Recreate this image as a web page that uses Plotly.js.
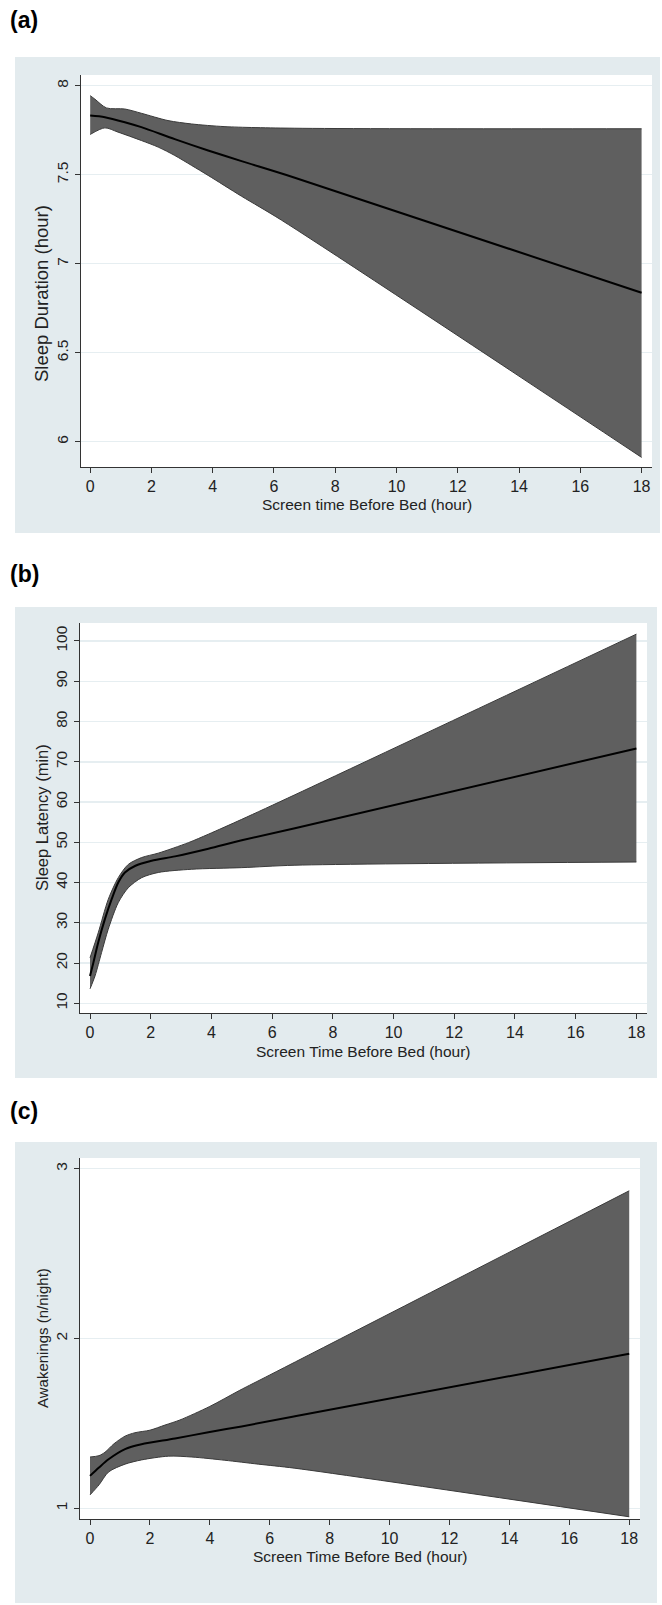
<!DOCTYPE html>
<html>
<head>
<meta charset="utf-8">
<script src="https://cdn.plot.ly/plotly-3.0.1.min.js"></script>
<style>
  html, body { margin: 0; padding: 0; background: #ffffff; }
  #chart { width: 662px; height: 1605px; }
</style>
</head>
<body>
<div id="chart"></div>
<script>
// ---------- data ----------
// Panel (a): Sleep Duration (hour)
var aCenterX = [0, 0.48, 1.13, 1.67, 2.76, 3.85, 4.94, 6.68, 18];
var aCenter  = [7.832, 7.823, 7.795, 7.767, 7.70, 7.636, 7.576, 7.483, 6.837];
var aUpperX  = [0, 0.15, 0.53, 1.13, 1.67, 2.54, 3.31, 4.4, 6.68, 18];
var aUpper   = [7.944, 7.925, 7.875, 7.869, 7.845, 7.804, 7.785, 7.77, 7.761, 7.758];
var aLowerX  = [0, 0.48, 0.91, 1.67, 2.22, 2.76, 3.31, 3.85, 4.94, 6.25, 18];
var aLower   = [7.726, 7.763, 7.739, 7.692, 7.655, 7.608, 7.552, 7.496, 7.379, 7.244, 5.912];

// Panel (b): Sleep Latency (min)
var bCenterX = [0, 0.11, 0.27, 0.49, 0.71, 0.93, 1.15, 1.48, 2.03, 2.8, 3.9, 5.0, 6.75, 18];
var bCenter  = [16.8, 20.1, 25.1, 30.9, 35.8, 40.0, 42.5, 44.1, 45.4, 46.5, 48.4, 50.5, 53.5, 73.3];
var bUpperX  = [0, 0.27, 0.6, 0.93, 1.26, 1.7, 2.25, 3.24, 3.9, 5.0, 6.75, 18];
var bUpper   = [21.3, 27.5, 35.8, 41.2, 44.5, 46.2, 47.3, 49.9, 52.0, 55.7, 61.8, 101.7];
var bLowerX  = [0, 0.165, 0.38, 0.6, 0.93, 1.26, 1.7, 2.25, 3.35, 5.0, 6.75, 18];
var bLower   = [13.6, 16.8, 22.6, 28.4, 35.0, 38.7, 41.2, 42.5, 43.3, 43.7, 44.3, 45.1];

// Panel (c): Awakenings (n/night)
var cCenterX = [0, 0.3, 0.62, 1.17, 1.72, 2.84, 3.95, 5.06, 6.84, 18];
var cCenter  = [1.191, 1.24, 1.289, 1.349, 1.377, 1.411, 1.448, 1.482, 1.542, 1.91];
var cUpperX  = [0, 0.3, 0.5, 0.8, 1.17, 1.5, 2.0, 2.5, 3.0, 4.0, 5.0, 6.0, 18];
var cUpper   = [1.302, 1.31, 1.33, 1.38, 1.425, 1.445, 1.46, 1.49, 1.52, 1.60, 1.695, 1.785, 2.87];
var cLowerX  = [0, 0.3, 0.62, 1.17, 1.72, 2.62, 3.4, 4.5, 5.62, 6.84, 18];
var cLower   = [1.079, 1.138, 1.214, 1.26, 1.285, 1.307, 1.302, 1.283, 1.26, 1.236, 0.95];

// Tick labels
var xTicks   = [0, 2, 4, 6, 8, 10, 12, 14, 16, 18];
var aYTicks  = [6, 6.5, 7, 7.5, 8];
var aYText   = ['6', '6.5', '7', '7.5', '8'];
var bYTicks  = [10, 20, 30, 40, 50, 60, 70, 80, 90, 100];
var cYTicks  = [1, 2, 3];

// Text
var panelLabels = ['(a)', '(b)', '(c)'];
var xTitles = ['Screen time Before Bed (hour)', 'Screen Time Before Bed (hour)', 'Screen Time Before Bed (hour)'];
var yTitles = ['Sleep Duration (hour)', 'Sleep Latency (min)', 'Awakenings (n/night)'];

// ---------- layout helpers (pixel -> paper) ----------
var W = 662, H = 1605;
function fx(px) { return px / W; }
function fy(py) { return 1 - py / H; }

var FONT = 'Liberation Sans, Arial, Helvetica, sans-serif';
var BG = '#e3ebee';
var GRID = '#e6eef1';
var BAND = '#5f5f5f';
var EDGE = '#3a3a3a';

function bandTraces(xa, ya, lx, ly, ux, uy, cx, cy) {
  return [
    { x: lx, y: ly, xaxis: xa, yaxis: ya, type: 'scatter', mode: 'lines',
      line: { color: EDGE, width: 1, shape: 'spline', smoothing: 0.8 },
      hoverinfo: 'skip', showlegend: false },
    { x: ux, y: uy, xaxis: xa, yaxis: ya, type: 'scatter', mode: 'lines',
      fill: 'tonexty', fillcolor: BAND,
      line: { color: EDGE, width: 1, shape: 'spline', smoothing: 0.8 },
      hoverinfo: 'skip', showlegend: false },
    { x: cx, y: cy, xaxis: xa, yaxis: ya, type: 'scatter', mode: 'lines',
      line: { color: '#000000', width: 2, shape: 'spline', smoothing: 0.8 },
      hoverinfo: 'skip', showlegend: false }
  ];
}

var data = []
  .concat(bandTraces('x', 'y', aLowerX, aLower, aUpperX, aUpper, aCenterX, aCenter))
  .concat(bandTraces('x2', 'y2', bLowerX, bLower, bUpperX, bUpper, bCenterX, bCenter))
  .concat(bandTraces('x3', 'y3', cLowerX, cLower, cUpperX, cUpper, cCenterX, cCenter));

function xAxis(d0, d1, range, anchor) {
  return {
    domain: [fx(d0), fx(d1)], range: range, anchor: anchor,
    tickmode: 'array', tickvals: xTicks, ticktext: xTicks.map(String),
    ticks: 'outside', ticklen: 5, tickwidth: 1, tickcolor: '#333333',
    showline: true, linecolor: '#333333', linewidth: 1.2,
    showgrid: false, zeroline: false,
    tickfont: { family: FONT, size: 16, color: '#222222' },
    ticklabelstandoff: 0,
    fixedrange: true
  };
}
function yAxis(t0, t1, range, anchor, vals, texts) {
  return {
    domain: [fy(t1), fy(t0)], range: range, anchor: anchor,
    tickmode: 'array', tickvals: vals, ticktext: texts,
    ticks: 'outside', ticklen: 5, tickwidth: 1, tickcolor: '#333333',
    showline: true, linecolor: '#333333', linewidth: 1.2,
    showgrid: true, gridcolor: GRID, gridwidth: 1.5,
    zeroline: false, tickangle: -90,
    tickfont: { family: FONT, size: 15.5, color: '#222222' },
    ticklabelstandoff: 1,
    fixedrange: true
  };
}

var panels = [
  { gx0: 15, gx1: 660, gy0: 57, gy1: 533, px0: 81, px1: 652, py0: 75, py1: 467, labY: 20, xtY: 505, ytY: 294, ytSize: 18.5 },
  { gx0: 15, gx1: 657, gy0: 607, gy1: 1078, px0: 80, px1: 647, py0: 623, py1: 1013, labY: 574, xtY: 1051, ytY: 818, ytSize: 16.5 },
  { gx0: 15, gx1: 657, gy0: 1142, gy1: 1603, px0: 80, px1: 640, py0: 1158, py1: 1519, labY: 1111, xtY: 1556, ytY: 1338, ytSize: 15 }
];

var shapes = [];
var annotations = [];
panels.forEach(function (p, i) {
  shapes.push({ type: 'rect', xref: 'paper', yref: 'paper', layer: 'below',
    x0: fx(p.gx0), x1: fx(p.gx1), y0: fy(p.gy1), y1: fy(p.gy0),
    fillcolor: BG, line: { width: 0 } });
  shapes.push({ type: 'rect', xref: 'paper', yref: 'paper', layer: 'below',
    x0: fx(p.px0), x1: fx(p.px1), y0: fy(p.py1), y1: fy(p.py0),
    fillcolor: '#ffffff', line: { width: 0 } });
  annotations.push({ xref: 'paper', yref: 'paper', x: fx(8), y: fy(p.labY),
    xanchor: 'left', yanchor: 'middle', showarrow: false,
    text: '<b>' + panelLabels[i] + '</b>',
    font: { family: FONT, size: 23, color: '#000000' } });
  annotations.push({ xref: 'paper', yref: 'paper', x: fx((p.px0 + p.px1) / 2), y: fy(p.xtY),
    xanchor: 'center', yanchor: 'middle', showarrow: false,
    text: xTitles[i],
    font: { family: FONT, size: 15.5, color: '#222222' } });
  annotations.push({ xref: 'paper', yref: 'paper', x: fx(42), y: fy(p.ytY),
    xanchor: 'center', yanchor: 'middle', showarrow: false, textangle: -90,
    text: yTitles[i],
    font: { family: FONT, size: p.ytSize, color: '#222222' } });
});

var layout = {
  width: W, height: H,
  margin: { l: 0, r: 0, t: 0, b: 0, pad: 0 },
  paper_bgcolor: '#ffffff',
  plot_bgcolor: 'rgba(0,0,0,0)',
  showlegend: false,
  xaxis:  xAxis(81, 652, [-0.30, 18.34], 'y'),
  yaxis:  yAxis(75, 467, [5.858, 8.060], 'x', aYTicks, aYText),
  xaxis2: xAxis(80, 647, [-0.33, 18.35], 'y2'),
  yaxis2: yAxis(623, 1013, [7.59, 104.47], 'x2', bYTicks, bYTicks.map(String)),
  xaxis3: xAxis(80, 640, [-0.334, 18.36], 'y3'),
  yaxis3: yAxis(1158, 1519, [0.937, 3.063], 'x3', cYTicks, cYTicks.map(String)),
  shapes: shapes,
  annotations: annotations
};

Plotly.newPlot('chart', data, layout, { staticPlot: true, displayModeBar: false });
</script>
</body>
</html>
